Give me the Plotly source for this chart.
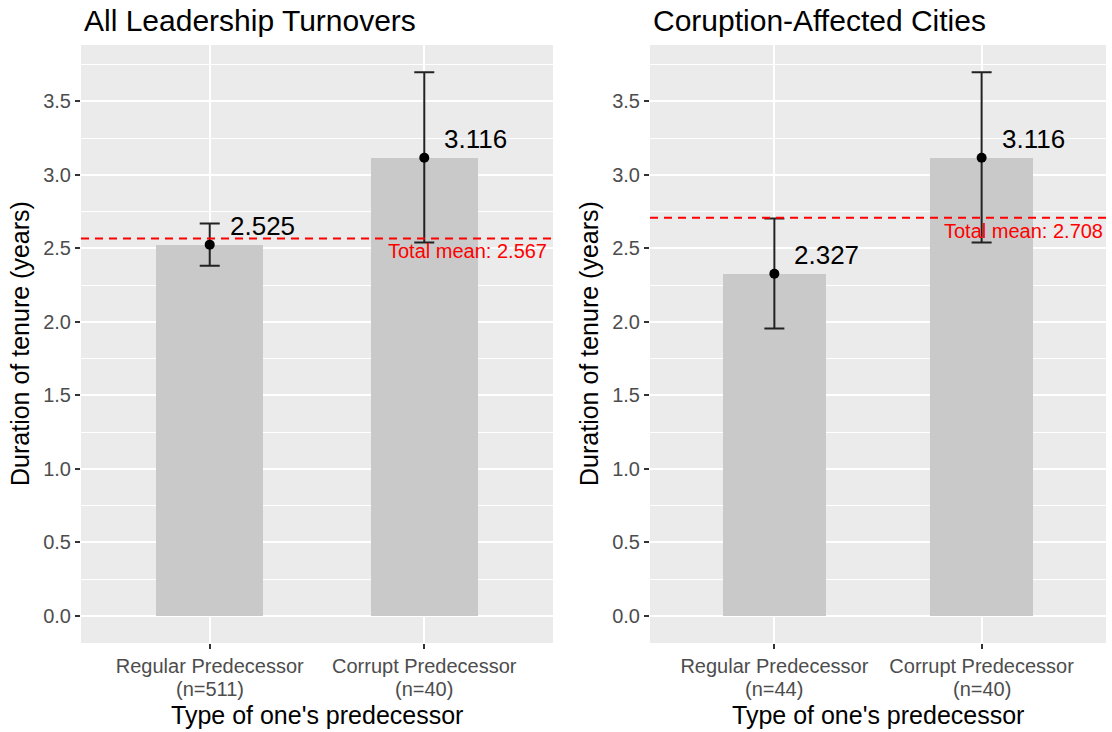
import plotly.graph_objects as go

# ---- data ----
categories = ["Regular Predecessor", "Corrupt Predecessor"]
panel_titles = ["All Leadership Turnovers", "Coruption-Affected Cities"]
tick_labels = ["Regular Predecessor", "Corrupt Predecessor"]
n_labels_left = ["(n=511)", "(n=40)"]
n_labels_right = ["(n=44)", "(n=40)"]
means_left = [2.525, 3.116]
means_right = [2.327, 3.116]
err_lo_left = [2.381, 2.540]
err_hi_left = [2.668, 3.698]
err_lo_right = [1.955, 2.540]
err_hi_right = [2.702, 3.698]
total_mean_left = 2.567
total_mean_right = 2.708
y_ticks = [0.0, 0.5, 1.0, 1.5, 2.0, 2.5, 3.0, 3.5]

FONT = "Liberation Sans, Arial, Helvetica, sans-serif"
BAR = "#C9C9C9"
PANEL = "#EBEBEB"

W, H = 1112, 732
dom_left = [81 / W, 553 / W]
dom_right = [650 / W, 1106 / W]
ydom = [(H - 643) / H, (H - 45) / H]

fig = go.Figure()

panels = [
    ("x", "y", dom_left, means_left, err_lo_left, err_hi_left, total_mean_left, n_labels_left, panel_titles[0]),
    ("x2", "y2", dom_right, means_right, err_lo_right, err_hi_right, total_mean_right, n_labels_right, panel_titles[1]),
]

annotations = []
shapes = []
for xa, ya, dom, means, lo, hi, tm, nlab, title in panels:
    fig.add_trace(go.Bar(x=categories, y=means, width=0.5, marker=dict(color=BAR, line=dict(width=0)),
                         xaxis=xa, yaxis=ya, showlegend=False, hoverinfo="skip"))
    fig.add_trace(go.Scatter(
        x=categories, y=means, mode="markers", xaxis=xa, yaxis=ya, showlegend=False,
        marker=dict(color="black", size=10),
        error_y=dict(type="data", symmetric=False,
                     array=[h - m for h, m in zip(hi, means)],
                     arrayminus=[m - l for m, l in zip(means, lo)],
                     color="#222222", thickness=2, width=10)))
    for c, m in zip(categories, means):
        annotations.append(dict(x=c, y=m, xref=xa, yref=ya, text=f"{m:.3f}", showarrow=False,
                                xanchor="left", yanchor="bottom", xshift=18, yshift=2,
                                font=dict(family=FONT, size=26, color="black")))
    for c, t in zip(categories, nlab):
        annotations.append(dict(x=c, y=(H - 689) / H, xref=xa, yref="paper", text=t, showarrow=False,
                                xanchor="center", yanchor="middle",
                                font=dict(family=FONT, size=20, color="#4D4D4D")))
    shapes.append(dict(type="line", xref=f"{xa} domain", yref=ya, x0=0, x1=1, y0=tm, y1=tm,
                       line=dict(color="#FF0000", width=2, dash="8px,6px"), layer="above"))
    annotations.append(dict(x=1.2, y=tm, xref=xa, yref=ya, text=f"Total mean: {tm:.3f}",
                            showarrow=False, xanchor="center", yanchor="top", yshift=0,
                            font=dict(family=FONT, size=20, color="#FF0000")))
    annotations.append(dict(x=dom[0] + 1 / W, y=(H - 20) / H, xref="paper", yref="paper", text=title,
                            showarrow=False, xanchor="left", yanchor="middle",
                            font=dict(family=FONT, size=30, color="black")))
    annotations.append(dict(x=(dom[0] + dom[1]) / 2, y=(H - 715) / H, xref="paper", yref="paper",
                            text="Type of one's predecessor", showarrow=False, xanchor="center",
                            yanchor="middle", font=dict(family=FONT, size=25, color="black")))
    annotations.append(dict(x=dom[0] - 61 / W, y=(ydom[0] + ydom[1]) / 2, xref="paper", yref="paper",
                            text="Duration of tenure (years)", showarrow=False, textangle=-90,
                            xanchor="center", yanchor="middle",
                            font=dict(family=FONT, size=25, color="black")))

axis_common_x = dict(type="category", range=[-0.6, 1.6], showgrid=True, gridcolor="white", gridwidth=1.8,
                     ticks="outside", ticklen=5, tickcolor="#333333", tickwidth=1.5,
                     tickfont=dict(family=FONT, size=20, color="#4D4D4D"), zeroline=False,
                     showline=False, tickvals=categories, ticktext=tick_labels)
axis_common_y = dict(range=[-0.185, 3.883], tickvals=y_ticks, ticktext=[f"{v:.1f}" for v in y_ticks],
                     showgrid=True, gridcolor="white", gridwidth=1.8,
                     minor=dict(tickvals=[0.25, 0.75, 1.25, 1.75, 2.25, 2.75, 3.25, 3.75],
                                showgrid=True, gridcolor="white", gridwidth=0.9, ticks=""),
                     ticks="outside", ticklen=5, tickcolor="#333333", tickwidth=1.5,
                     tickfont=dict(family=FONT, size=20, color="#4D4D4D"), zeroline=False, showline=False)

fig.update_layout(
    width=W, height=H, margin=dict(l=0, r=0, t=0, b=0),
    paper_bgcolor="white", plot_bgcolor=PANEL,
    xaxis=dict(axis_common_x, domain=dom_left, anchor="y"),
    yaxis=dict(axis_common_y, domain=ydom, anchor="x"),
    xaxis2=dict(axis_common_x, domain=dom_right, anchor="y2"),
    yaxis2=dict(axis_common_y, domain=ydom, anchor="x2"),
    annotations=annotations, shapes=shapes, bargap=0, showlegend=False,
)

fig.write_html("out.html")
